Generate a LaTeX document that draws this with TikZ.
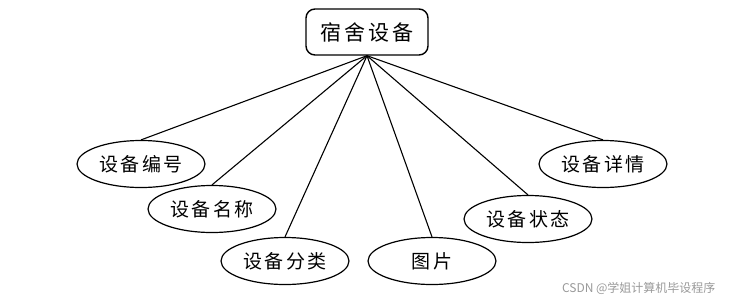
\documentclass[tikz,border=0pt]{standalone}
\usepackage{fontspec}
\setmainfont{Noto Sans CJK SC}
\newfontfamily\cjk{Noto Sans CJK SC}
\usetikzlibrary{shapes.geometric}
\tikzset{
  attr/.style={ellipse, draw=black, line width=1.2pt, minimum width=128pt, minimum height=47pt, inner sep=0pt,
    font=\fontsize{19pt}{21pt}\cjk\addfontfeature{LetterSpace=12}},
  entity/.style={rounded corners=9pt, draw=black, line width=1.4pt, minimum width=122pt, minimum height=46pt, inner sep=0pt,
    font=\fontsize{21pt}{23pt}\cjk\addfontfeature{LetterSpace=15}},
  link/.style={line width=1.1pt}
}
\begin{document}
\begin{tikzpicture}[x=1pt,y=-1pt]
\useasboundingbox (0,0) rectangle (729,301);
\node[entity] (e) at (367,32) {宿舍设备};
\node[attr] (a1) at (141,164) {设备编号};
\node[attr] (a2) at (212,209) {设备名称};
\node[attr] (a3) at (285,261) {设备分类};
\node[attr] (a4) at (432,261) {图片};
\node[attr] (a5) at (528,219) {设备状态};
\node[attr] (a6) at (603,164) {设备详情};
\foreach \n in {a1,a2,a3,a4,a5,a6}
  \draw[link] (e.south) -- (\n.north);
\node[anchor=east, text=black!40, font=\fontsize{12pt}{14pt}\cjk] (wm) at (719,288) {CSDN @学姐计算机毕设程序};
\end{tikzpicture}
\end{document}
